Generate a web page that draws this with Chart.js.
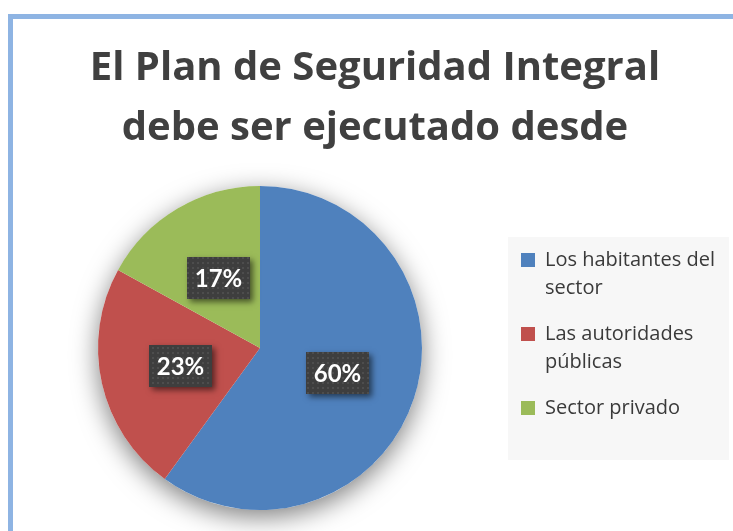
<!DOCTYPE html>
<html>
<head>
<meta charset="utf-8">
<script src="https://cdn.jsdelivr.net/npm/chart.js@4.4.1/dist/chart.umd.min.js"></script>
<style>
  html, body { margin: 0; padding: 0; background: #fff; }
  #wrap { position: relative; width: 733px; height: 531px; overflow: hidden; }
  #frame { position: absolute; left: 8px; top: 14px; width: 800px; height: 600px;
           border-left: 5px solid #8EB4E3; border-top: 5px solid #8EB4E3; }
  #Chart1 { position: absolute; left: 0; top: 0; }
</style>
</head>
<body>
<div id="wrap">
  <div id="frame"></div>
  <canvas id="Chart1" width="733" height="531"></canvas>
</div>
<script>
const titleLines = ['El Plan de Seguridad Integral', 'debe ser ejecutado desde'];
const categories = [['Los habitantes del', 'sector'], ['Las autoridades', 'públicas'], ['Sector privado']];
const shares = [60, 23, 17];
const sliceColors = ['#4F81BD', '#C0504D', '#9BBB59'];

Chart.defaults.font.family = 'Open Sans';

// small dotted tile for the label boxes
const dots = document.createElement('canvas');
dots.width = 5;
dots.height = 5;
const dctx = dots.getContext('2d');
dctx.fillStyle = '#3E3E3E';
dctx.fillRect(0, 0, 5, 5);
dctx.fillStyle = '#4D4D4D';
dctx.fillRect(2, 2, 2, 2);

const legendTweak = {
    id: 'legendTweak',
    beforeInit(chart) {
        const fit = chart.legend.fit;
        chart.legend.fit = function () {
            fit.call(this);
            this.width = 230;
            this.columnSizes.forEach(c => { c.height += 20; });
        };
    },
    beforeDraw(chart) {
        const lg = chart.legend;
        const cy = (chart.chartArea.top + chart.chartArea.bottom) / 2;
        const ctx = chart.ctx;
        ctx.save();
        ctx.fillStyle = '#F7F7F7';
        ctx.fillRect(lg.left + 5, cy - 111, 221, 223);
        ctx.restore();
    }
};

const pieShadow = {
    id: 'pieShadow',
    beforeDatasetsDraw(chart) {
        const arc = chart.getDatasetMeta(0).data[0];
        if (!arc) return;
        const ctx = chart.ctx;
        ctx.save();
        ctx.shadowColor = 'rgba(0,0,0,0.5)';
        ctx.shadowBlur = 26;
        ctx.shadowOffsetY = 7;
        ctx.fillStyle = '#fff';
        ctx.beginPath();
        ctx.arc(arc.x, arc.y, arc.outerRadius, 0, Math.PI * 2);
        ctx.fill();
        ctx.restore();
    }
};

const pctBoxes = {
    id: 'pctBoxes',
    afterDatasetsDraw(chart) {
        const ctx = chart.ctx;
        const pattern = ctx.createPattern(dots, 'repeat');
        chart.getDatasetMeta(0).data.forEach((arc, i) => {
            const p = arc.tooltipPosition();
            const w = 63, h = 42;
            const x = Math.round(p.x - w / 2), y = Math.round(p.y - h / 2);
            ctx.save();
            ctx.shadowColor = 'rgba(0,0,0,0.55)';
            ctx.shadowBlur = 6;
            ctx.shadowOffsetX = 3;
            ctx.shadowOffsetY = 3;
            ctx.fillStyle = '#3E3E3E';
            ctx.fillRect(x, y, w, h);
            ctx.restore();
            ctx.save();
            ctx.fillStyle = pattern;
            ctx.fillRect(x, y, w, h);
            ctx.fillStyle = '#fff';
            ctx.font = 'bold 24px Lato';
            ctx.textAlign = 'center';
            ctx.textBaseline = 'middle';
            ctx.fillText(shares[i] + '%', x + w / 2, y + h / 2 + 1);
            ctx.restore();
        });
    }
};

const ctx = document.getElementById('Chart1');

new Chart(ctx, {
    type: 'pie',
    data: {
        labels: categories,
        datasets: [{
            data: shares,
            backgroundColor: sliceColors,
            borderWidth: 0,
            hoverOffset: 0,
            offset: 0
        }]
    },
    options: {
        responsive: false,
        animation: false,
        layout: {
            padding: { left: 17, right: 0, top: 0, bottom: 21 }
        },
        plugins: {
            title: {
                display: true,
                text: titleLines,
                color: '#404040',
                font: { family: 'Open Sans', size: 40, weight: 'bold', lineHeight: 1.5 },
                padding: { top: 39, bottom: 27 }
            },
            legend: {
                position: 'right',
                align: 'center',
                fullSize: false,
                labels: {
                    boxWidth: 14,
                    boxHeight: 14,
                    padding: 18,
                    color: '#3A3A3A',
                    font: { family: 'Open Sans', size: 20, lineHeight: 1.4 }
                }
            },
            tooltip: { enabled: false }
        }
    },
    plugins: [legendTweak, pieShadow, pctBoxes]
});
</script>
</body>
</html>
